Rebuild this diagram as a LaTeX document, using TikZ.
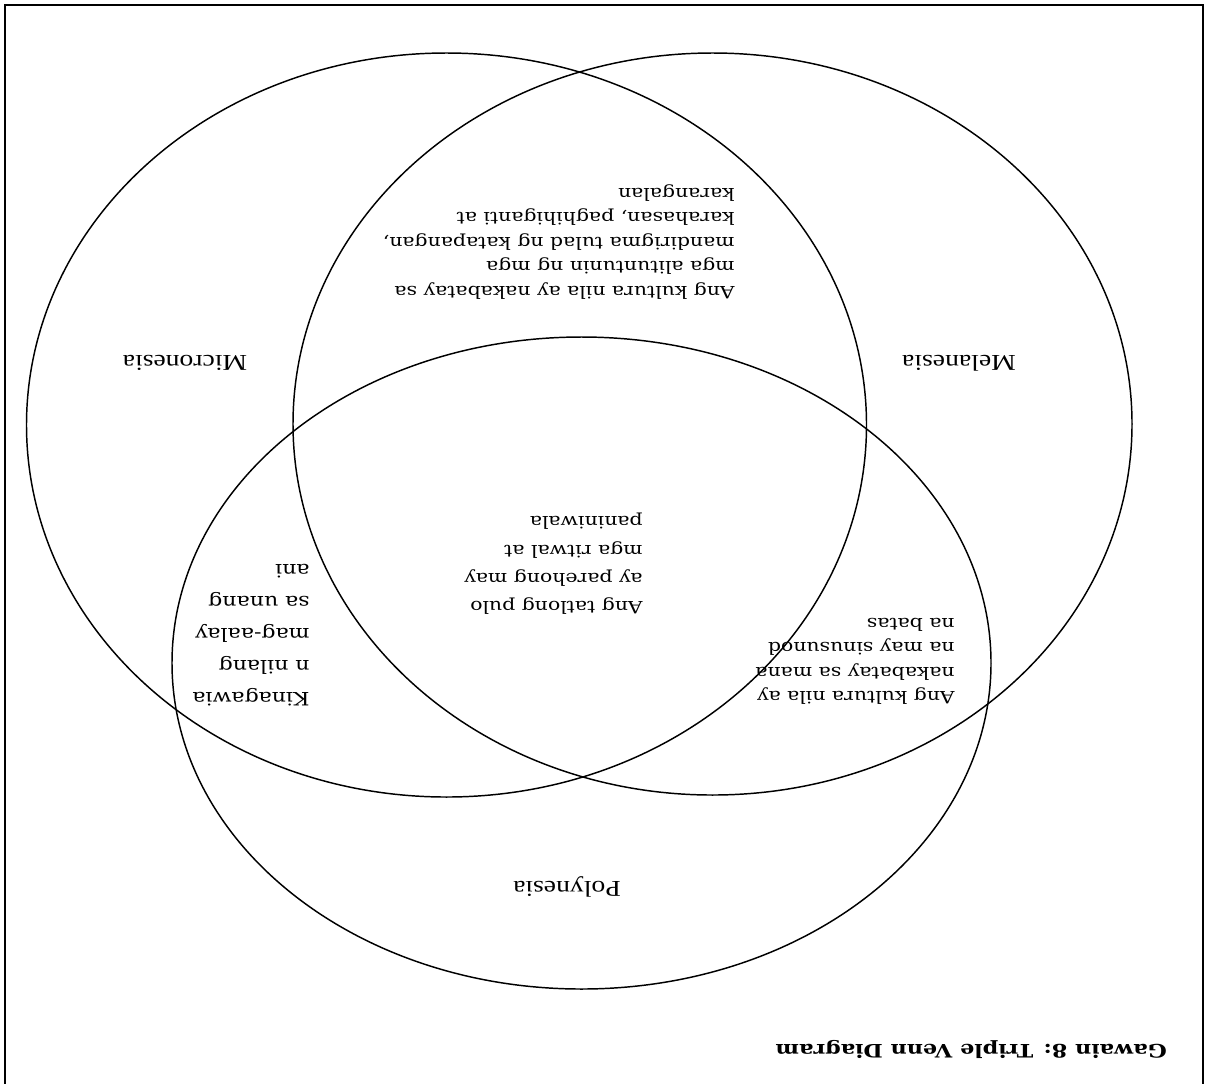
\documentclass[tikz,border=0pt]{standalone}
\usepackage{fontspec}
\usepackage{graphicx}
\setmainfont{DejaVu Serif}
\newfontfamily\labelfont{Liberation Serif}
\newcommand{\linesblock}[3]{\scalebox{1.2}[1]{\fontsize{#1}{#2}\selectfont\begin{tabular}{@{}l@{}}#3\end{tabular}}}
\begin{document}
\begin{tikzpicture}[x=0.75pt,y=-0.75pt,
  venn/.style={line width=1.1pt},
  frame/.style={line width=1.5pt},
  txt/.style={rotate=180,inner sep=0pt,anchor=west},
  lbl/.style={rotate=180,inner sep=0pt,font=\labelfont\fontsize{17}{20}\selectfont}]
\useasboundingbox (0,0) rectangle (1205,1083);
\draw[frame] (5,5) rectangle (1203,1100);
\draw[venn] (446.5,425) ellipse [x radius=420, y radius=372];
\draw[venn] (712.5,424) ellipse [x radius=419.5, y radius=371];
\draw[venn] (581.5,663) ellipse [x radius=409.5, y radius=326];
\node[txt] (mm) at (735,242) {\linesblock{12.75}{18.4}{Ang kultura nila ay nakabatay sa\\ mga alituntunin ng mga\\ mandirigma tulad ng katapangan,\\ karahasan, paghihiganti at\\ karangalan}};
\node[txt] (all) at (643,565) {\linesblock{12.75}{21.2}{Ang tatlong pulo\\ ay parehong may\\ mga ritwal at\\ paniniwala}};
\node[txt] (mp) at (955,660) {\linesblock{12.75}{18.4}{Ang kultura nila ay\\ nakabatay sa mana\\ na may sinusunod\\ na batas}};
\node[txt] (mip) at (310,635) {\linesblock{13.8}{24}{Kinagawia\\ n nilang\\ mag-aalay\\ sa unang\\ ani}};
\node[lbl] (mic) at (185,363) {\scalebox{1.22}[1]{Micronesia}};
\node[lbl] (mel) at (959,363) {\scalebox{1.22}[1]{Melanesia}};
\node[lbl] (pol) at (567,887) {\scalebox{1.22}[1]{Polynesia}};
\node[txt, font=\bfseries\fontsize{13.9}{16}\selectfont] (title) at (1167,1049) {\scalebox{1.2}[1]{Gawain 8: Triple Venn Diagram}};
\end{tikzpicture}
\end{document}
